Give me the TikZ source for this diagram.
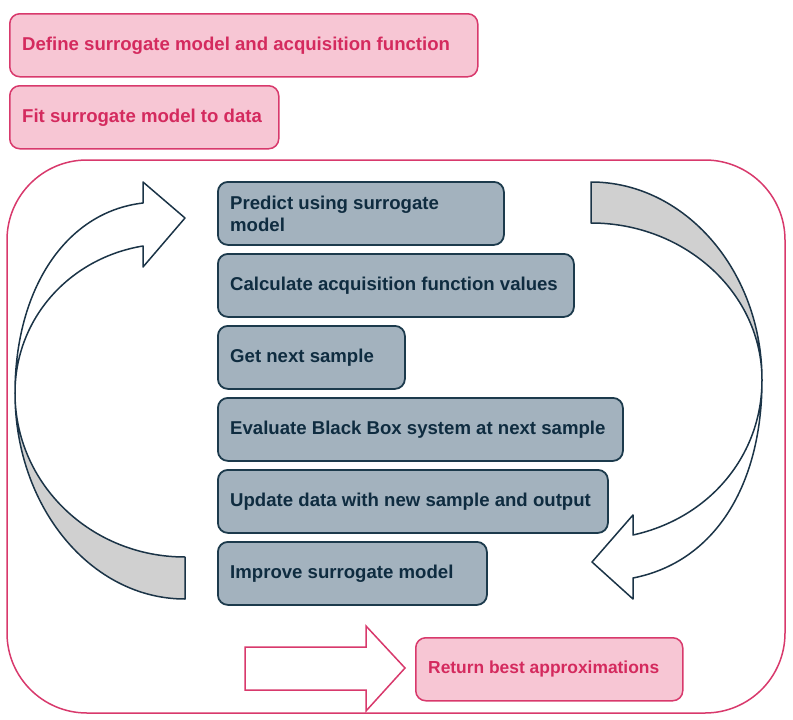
\documentclass[tikz,border=0pt]{standalone}
\usepackage{fontspec}
\setmainfont{Liberation Sans}
\definecolor{pinkfill}{HTML}{F7C6D4}
\definecolor{pinkline}{HTML}{D8396C}
\definecolor{pinktext}{HTML}{D42A5E}
\definecolor{slatefill}{HTML}{A3B2BE}
\definecolor{slateline}{HTML}{1C3A4C}
\definecolor{slatetext}{HTML}{0F2C40}
\definecolor{arrowgray}{HTML}{D0D0D0}
\definecolor{arrowline}{HTML}{1B3447}
\tikzset{
  boxbase/.style={rectangle, rounded corners=10pt, anchor=north west, minimum height=63pt, inner sep=0pt},
  boxtext/.style={anchor=west, xshift=13pt, align=left, inner sep=0pt,
    font=\fontsize{18.6}{22}\selectfont\bfseries},
  pinklabel/.style={boxtext, text=pinktext},
  slatelabel/.style={boxtext, text=slatetext},
  pinkbox/.style={boxbase, fill=pinkfill, draw=pinkline, line width=1.5pt},
  slatebox/.style={boxbase, fill=slatefill, draw=slateline, line width=1.8pt},
  curvearrow/.style={draw=arrowline, line width=1.5pt, line join=round},
}
\begin{document}
\begin{tikzpicture}[x=1pt,y=-1pt]
\useasboundingbox (0,0) rectangle (793,720);
% top pink boxes
\node[pinkbox, minimum width=468pt, label={[pinklabel]west:Define surrogate model and acquisition function}] (define) at (9,13) {};
\node[pinkbox, minimum width=269pt, label={[pinklabel]west:Fit surrogate model to data}] (fit) at (9,85) {};
% big frame
\draw[pinkline, line width=1.5pt, rounded corners=80pt] (7,160) rectangle (785,713);
% slate boxes
\node[slatebox, minimum width=286pt, label={[slatelabel]west:{Predict using surrogate\\model}}] (predict) at (217,181) {};
\node[slatebox, minimum width=356pt, label={[slatelabel]west:Calculate acquisition function values}] (calc) at (217,253) {};
\node[slatebox, minimum width=187pt, label={[slatelabel]west:Get next sample}] (next) at (217,325) {};
\node[slatebox, minimum width=405pt, label={[slatelabel]west:Evaluate Black Box system at next sample}] (eval) at (217,397) {};
\node[slatebox, minimum width=390pt, label={[slatelabel]west:Update data with new sample and output}] (update) at (217,469) {};
\node[slatebox, minimum width=269pt, label={[slatelabel]west:Improve surrogate model}] (improve) at (217,541) {};
% return box
\node[pinkbox, minimum width=267pt, label={[pinklabel, font=\fontsize{17.4}{21}\selectfont\bfseries]west:Return best approximations}] (ret) at (415,637) {};
% pink block arrow
\draw[pinkline, line width=1.5pt, fill=white, line join=miter]
  (245,647) -- (366,647) -- (366,626) -- (405,668) -- (366,711) -- (366,690) -- (245,690) -- cycle;
% left curved arrow: gray lower part
\draw[curvearrow, fill=arrowgray]
  (185,557) .. controls (91,557) and (15,484) .. (15,393)
  .. controls (15,507) and (91,599) .. (185,599) -- cycle;
% left curved arrow: white upper part with head
\draw[curvearrow, fill=white]
  (15,393) .. controls (15,318) and (70,258) .. (143,246)
  -- (143,267) -- (185,218) -- (143,182) -- (143,203)
  .. controls (65,212) and (15,290) .. (15,393) -- cycle;
% right curved arrow: gray upper part
\draw[curvearrow, fill=arrowgray]
  (591,182) .. controls (685,182) and (762,271) .. (762,380)
  .. controls (762,293) and (685,223) .. (591,223) -- cycle;
% right curved arrow: white lower part with head
\draw[curvearrow, fill=white]
  (762,380) .. controls (762,455) and (710,518) .. (633,535)
  -- (633,515) -- (592,562) -- (633,599) -- (633,578)
  .. controls (715,562) and (762,485) .. (762,380) -- cycle;
\end{tikzpicture}
\end{document}
